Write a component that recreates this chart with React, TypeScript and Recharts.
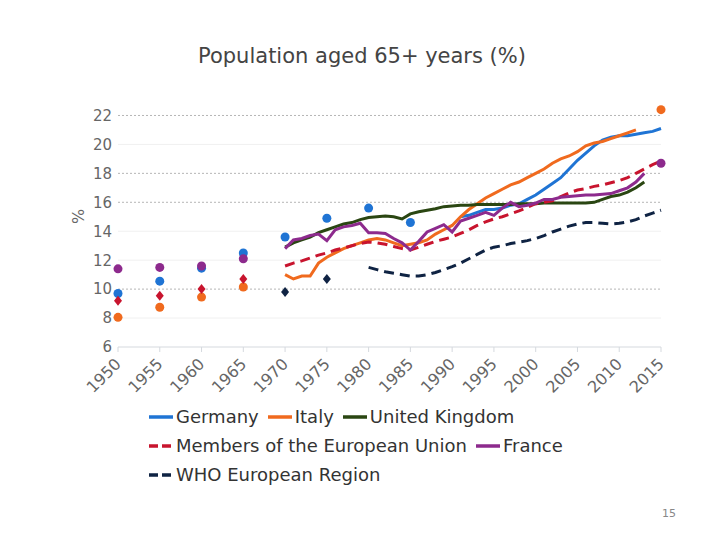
import { ComposedChart, Line, XAxis, YAxis, CartesianGrid } from "recharts";

const FONT = "'DejaVu Sans', Verdana, sans-serif";

const firstYear = 1950;
const lastYear = 2015;
const xTicks = [1950, 1955, 1960, 1965, 1970, 1975, 1980, 1985, 1990, 1995, 2000, 2005, 2010, 2015];
const yTicks = [6, 8, 10, 12, 14, 16, 18, 20, 22];
const strongGrid = [10, 16, 18, 22];
const faintGrid = [8, 12, 14, 20];

// isolated points (5-year estimates) and annual runs, per series
const germanyPointYears = [1950, 1955, 1960, 1965, 1970, 1975, 1980, 1985];
const germanyPoints = [9.7, 10.55, 11.45, 12.5, 13.6, 14.9, 15.6, 14.6];
const germanyLineStart = 1991;
const germanyLine = [
  15.0, 15.1, 15.3, 15.5, 15.5, 15.6, 15.8, 15.9, 16.2, 16.5, 16.9, 17.3, 17.7, 18.3, 18.9,
  19.4, 19.9, 20.3, 20.5, 20.6, 20.6, 20.7, 20.8, 20.9, 21.1,
];

const italyPointYears = [1950, 1955, 1960, 1965, 2015];
const italyPoints = [8.05, 8.75, 9.45, 10.15, 22.4];
const italyLineStart = 1970;
const italyLine = [
  11.0, 10.7, 10.9, 10.9, 11.8, 12.2, 12.5, 12.8, 13.0, 13.2, 13.4, 13.5, 13.4, 13.2, 13.0,
  13.1, 13.2, 13.4, 13.8, 14.1, 14.4, 15.0, 15.5, 15.9, 16.3, 16.6, 16.9, 17.2, 17.4, 17.7,
  18.0, 18.3, 18.7, 19.0, 19.2, 19.5, 19.9, 20.1, 20.2, 20.4, 20.6, 20.8, 21.0,
];

const ukPointYears: number[] = [];
const ukPoints: number[] = [];
const ukLineStart = 1970;
const ukLine = [
  12.9, 13.2, 13.4, 13.6, 13.9, 14.1, 14.3, 14.5, 14.6, 14.8, 14.95, 15.0, 15.05, 15.0, 14.85,
  15.2, 15.35, 15.45, 15.55, 15.7, 15.75, 15.8, 15.8, 15.85, 15.85, 15.85, 15.85, 15.85, 15.9,
  15.9, 15.9, 15.95, 15.95, 15.95, 15.95, 15.95, 15.95, 16.0, 16.2, 16.4, 16.5, 16.7, 17.0, 17.4,
];

const euPointYears = [1950, 1955, 1960, 1965];
const euPoints = [9.2, 9.55, 10.0, 10.7];
const euLineStart = 1970;
const euLine = [
  11.6, 11.8, 11.95, 12.15, 12.35, 12.5, 12.7, 12.85, 13.0, 13.15, 13.25, 13.2, 13.1, 12.95,
  12.8, 12.7, 12.9, 13.1, 13.3, 13.45, 13.6, 13.85, 14.1, 14.4, 14.65, 14.85, 15.0, 15.2, 15.4,
  15.65, 15.9, 16.0, 16.1, 16.4, 16.65, 16.85, 16.95, 17.1, 17.2, 17.35, 17.5, 17.7, 18.0, 18.3,
  18.6, 18.85,
];

const francePointYears = [1950, 1955, 1960, 1965, 2015];
const francePoints = [11.4, 11.5, 11.6, 12.1, 18.7];
const franceLineStart = 1970;
const franceLine = [
  12.8, 13.4, 13.5, 13.7, 13.8, 13.35, 14.1, 14.3, 14.4, 14.55, 13.9, 13.9, 13.85, 13.5, 13.2,
  12.7, 13.3, 13.95, 14.2, 14.45, 13.95, 14.7, 14.9, 15.1, 15.3, 15.1, 15.6, 16.0, 15.7, 15.8,
  15.95, 16.2, 16.2, 16.35, 16.4, 16.45, 16.5, 16.5, 16.55, 16.6, 16.8, 17.0, 17.4, 18.0,
];

const whoPointYears = [1970, 1975];
const whoPoints = [9.8, 10.7];
const whoLineStart = 1980;
const whoLine = [
  11.5, 11.35, 11.2, 11.1, 11.0, 10.9, 10.9, 11.0, 11.15, 11.35, 11.55, 11.8, 12.1, 12.4, 12.7,
  12.9, 13.0, 13.15, 13.25, 13.35, 13.5, 13.7, 13.95, 14.15, 14.35, 14.5, 14.6, 14.6, 14.55,
  14.5, 14.55, 14.65, 14.8, 15.05, 15.25, 15.45,
];

type Series = {
  key: string;
  name: string;
  color: string;
  dashed: boolean;
  marker: "circle" | "diamond";
  pointYears: number[];
  points: number[];
  lineStart: number;
  line: number[];
};

const series: Series[] = [
  { key: "germany", name: "Germany", color: "#1f74d4", dashed: false, marker: "circle",
    pointYears: germanyPointYears, points: germanyPoints, lineStart: germanyLineStart, line: germanyLine },
  { key: "italy", name: "Italy", color: "#f06a1e", dashed: false, marker: "circle",
    pointYears: italyPointYears, points: italyPoints, lineStart: italyLineStart, line: italyLine },
  { key: "uk", name: "United Kingdom", color: "#2a4612", dashed: false, marker: "circle",
    pointYears: ukPointYears, points: ukPoints, lineStart: ukLineStart, line: ukLine },
  { key: "eu", name: "Members of the European Union", color: "#c8142e", dashed: true, marker: "diamond",
    pointYears: euPointYears, points: euPoints, lineStart: euLineStart, line: euLine },
  { key: "france", name: "France", color: "#8d2a8d", dashed: false, marker: "circle",
    pointYears: francePointYears, points: francePoints, lineStart: franceLineStart, line: franceLine },
  { key: "who", name: "WHO European Region", color: "#0f2343", dashed: true, marker: "diamond",
    pointYears: whoPointYears, points: whoPoints, lineStart: whoLineStart, line: whoLine },
];

const legendRows = [["germany", "italy", "uk"], ["eu", "france"], ["who"]];

const rows: Record<string, number | null>[] = [];
for (let y = firstYear; y <= lastYear; y++) {
  const row: Record<string, number | null> = { year: y };
  for (const s of series) {
    const pi = s.pointYears.indexOf(y);
    const li = y - s.lineStart;
    if (pi >= 0) row[s.key] = s.points[pi];
    else if (li >= 0 && li < s.line.length) row[s.key] = s.line[li];
    else row[s.key] = null;
  }
  rows.push(row);
}

function markerDot(s: Series) {
  return (props: any) => {
    const { cx, cy, payload, index } = props;
    if (cx == null || cy == null || !s.pointYears.includes(payload.year)) {
      return <g key={`${s.key}-n-${index}`} />;
    }
    if (s.marker === "diamond") {
      return (
        <path
          key={`${s.key}-d-${index}`}
          d={`M${cx},${cy - 5}L${cx + 4},${cy}L${cx},${cy + 5}L${cx - 4},${cy}Z`}
          fill={s.color}
        />
      );
    }
    return <circle key={`${s.key}-c-${index}`} cx={cx} cy={cy} r={4.5} fill={s.color} />;
  };
}

function LegendSample({ s }: { s: Series }) {
  return (
    <svg width={26} height={10} style={{ marginRight: 2 }}>
      <line
        x1={1}
        x2={25}
        y1={5}
        y2={5}
        stroke={s.color}
        strokeWidth={3.5}
        strokeDasharray={s.dashed ? "9 4" : undefined}
      />
    </svg>
  );
}

export default function App() {
  const byKey = (k: string) => series.find((s) => s.key === k)!;
  return (
    <div
      style={{
        position: "absolute",
        left: 0,
        top: 0,
        width: 720,
        height: 540,
        background: "#fff",
        fontFamily: FONT,
      }}
    >
      <div
        style={{
          position: "absolute",
          top: 44,
          left: 0,
          width: 724,
          textAlign: "center",
          fontSize: 21,
          color: "#444",
        }}
      >
        Population aged 65+ years (%)
      </div>
      <div
        style={{
          position: "absolute",
          left: 71,
          top: 207,
          fontSize: 16,
          color: "#666",
          transform: "rotate(-90deg)",
        }}
      >
        %
      </div>

      <ComposedChart
        width={720}
        height={540}
        data={rows}
        margin={{ top: 101, right: 59, bottom: 163, left: 78 }}
      >
        <CartesianGrid vertical={false} horizontalValues={faintGrid} stroke="#f0f0f0" />
        <CartesianGrid
          vertical={false}
          horizontalValues={strongGrid}
          stroke="#b5b5b5"
          strokeDasharray="2 2"
        />
        <XAxis
          dataKey="year"
          type="number"
          domain={[firstYear, lastYear]}
          ticks={xTicks}
          interval={0}
          angle={-45}
          textAnchor="end"
          tickSize={5}
          tickMargin={5}
          stroke="#d5d9de"
          tick={{ fill: "#666", fontSize: 16, fontFamily: FONT, dx: -4 }}
        />
        <YAxis
          type="number"
          domain={[6, 23]}
          ticks={yTicks}
          interval={0}
          width={40}
          axisLine={false}
          tickLine={false}
          tickMargin={0}
          tick={{ fill: "#666", fontSize: 15, fontFamily: FONT }}
        />
        {series.map((s) => (
          <Line
            key={s.key}
            dataKey={s.key}
            name={s.name}
            type="linear"
            stroke={s.color}
            strokeWidth={3}
            strokeDasharray={s.dashed ? "10 6" : undefined}
            connectNulls={false}
            dot={markerDot(s)}
            activeDot={false}
            isAnimationActive={false}
          />
        ))}
      </ComposedChart>

      <div
        style={{
          position: "absolute",
          left: 148,
          top: 402,
          fontSize: 18,
          color: "#333",
          lineHeight: "29px",
        }}
      >
        {legendRows.map((row, i) => (
          <div key={i} style={{ display: "flex", alignItems: "center", whiteSpace: "nowrap" }}>
            {row.map((k) => {
              const s = byKey(k);
              return (
                <div key={k} style={{ display: "flex", alignItems: "center", marginRight: 8 }}>
                  <LegendSample s={s} />
                  <span>{s.name}</span>
                </div>
              );
            })}
          </div>
        ))}
      </div>

      <div style={{ position: "absolute", left: 662, top: 507, fontSize: 11, color: "#888" }}>15</div>
    </div>
  );
}
